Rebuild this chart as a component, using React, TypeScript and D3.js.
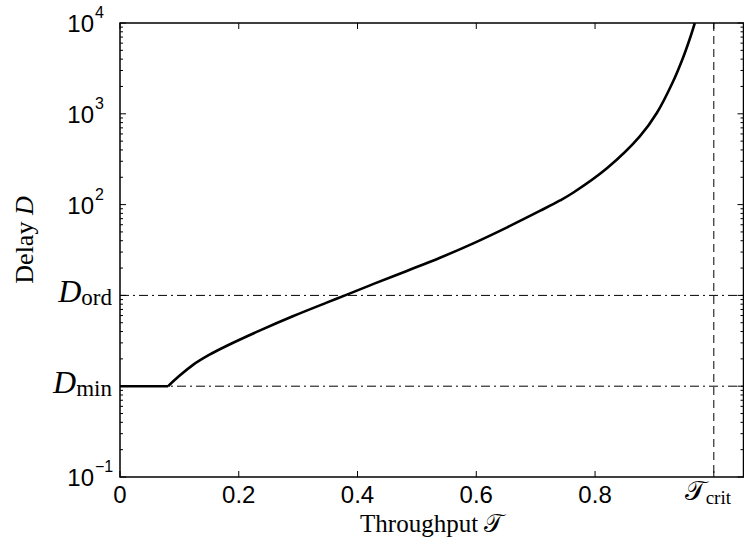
import React from 'react';
import * as d3 from 'd3';

// values
const throughput = [0, 0.081, 0.1, 0.123, 0.15, 0.18, 0.236, 0.291, 0.348, 0.379, 0.426, 0.483, 0.539, 0.594, 0.652, 0.707, 0.741, 0.763, 0.82, 0.875, 0.904, 0.931, 0.948, 0.96, 0.968];
const delay = [1, 1, 1.3, 1.72, 2.21, 2.79, 4.12, 5.89, 8.32, 10.0, 13.3, 18.6, 26.0, 37.2, 56.2, 85.1, 111, 135, 251, 560, 1020, 2239, 4121, 6839, 10000];

const xTicks = [0, 0.2, 0.4, 0.6, 0.8];
const tCrit = 1;
const dMin = 1;
const dOrd = 10;
const yDecades = [-1, 0, 1, 2, 3, 4];
const yPowerLabels = [-1, 2, 3, 4];

const W = 744;
const H = 542;
const margin = { top: 23, right: 0.5, bottom: 65, left: 120 };

const sans = '"Liberation Sans", Arial, Helvetica, sans-serif';
const serif = '"Liberation Serif", "DejaVu Serif", serif';

const App = () => {
  const x = d3.scaleLinear().domain([0, 1.05]).range([margin.left, W - margin.right]);
  const y = d3.scaleLog().domain([0.1, 1e4]).range([H - margin.bottom, margin.top]);
  const [x0, x1] = x.range();
  const [y0, y1] = y.range();

  const pts: [number, number][] = throughput.map((t, i) => [t, delay[i]]);

  // flat part is straight, the rest is smoothed
  const flat = d3.line<[number, number]>().x(d => x(d[0])).y(d => y(d[1]))(pts.slice(0, 2));
  const rise = d3.line<[number, number]>()
    .x(d => x(d[0]))
    .y(d => y(d[1]))
    .curve(d3.curveCatmullRom.alpha(0.5))(pts.slice(1));

  const minor: number[] = [];
  yDecades.slice(0, -1).forEach(e => {
    for (let m = 2; m <= 9; m++) minor.push(m * Math.pow(10, e));
  });

  return (
    <svg width={W} height={H} style={{ position: 'absolute', left: 0, top: 0, background: '#fff' }}>
      <defs>
        <clipPath id="plot">
          <rect x={x0} y={y1} width={x1 - x0} height={y0 - y1} />
        </clipPath>
      </defs>

      {/* reference lines */}
      <g stroke="#000" strokeWidth={1} fill="none">
        <line x1={x0} x2={x1} y1={y(dOrd)} y2={y(dOrd)} strokeDasharray="9,4,2,4" />
        <line x1={x0} x2={x1} y1={y(dMin)} y2={y(dMin)} strokeDasharray="9,4,2,4" />
        <line x1={x(tCrit)} x2={x(tCrit)} y1={y1} y2={y0} strokeDasharray="8,5" />
      </g>

      {/* curve */}
      <g clipPath="url(#plot)" fill="none" stroke="#000" strokeWidth={2.6}>
        <path d={flat || ''} />
        <path d={rise || ''} strokeLinejoin="round" />
      </g>

      {/* ticks */}
      <g stroke="#000" strokeWidth={1}>
        {[...xTicks, tCrit].map(t => (
          <g key={'xt' + t}>
            <line x1={x(t)} x2={x(t)} y1={y0} y2={y0 - 6} />
            <line x1={x(t)} x2={x(t)} y1={y1} y2={y1 + 6} />
          </g>
        ))}
        {yDecades.map(e => (
          <g key={'yt' + e}>
            <line x1={x0} x2={x0 + 6} y1={y(Math.pow(10, e))} y2={y(Math.pow(10, e))} />
            <line x1={x1} x2={x1 - 6} y1={y(Math.pow(10, e))} y2={y(Math.pow(10, e))} />
          </g>
        ))}
        {minor.map(v => (
          <g key={'ym' + v}>
            <line x1={x0} x2={x0 + 3} y1={y(v)} y2={y(v)} />
            <line x1={x1} x2={x1 - 3} y1={y(v)} y2={y(v)} />
          </g>
        ))}
      </g>

      {/* box */}
      <rect x={x0} y={y1} width={x1 - x0} height={y0 - y1} fill="none" stroke="#000" strokeWidth={1.5} />

      {/* x tick labels */}
      <g fontFamily={sans} fontSize={24} textAnchor="middle" fill="#000">
        {xTicks.map(t => (
          <text key={'xl' + t} x={x(t)} y={y0 + 26}>{d3.format('')(t)}</text>
        ))}
      </g>
      <text x={x(tCrit) - 6} y={y0 + 23} fontFamily={serif} fontSize={27} textAnchor="middle" fill="#000">
        𝒯<tspan fontSize={19} dy={4}>crit</tspan>
      </text>

      {/* y tick labels */}
      <g fontFamily={sans} fill="#000">
        {yPowerLabels.map(e => (
          <g key={'yl' + e}>
            <text x={x0 - 26} y={y(Math.pow(10, e)) + 9} fontSize={24} textAnchor="end">10</text>
            <text x={x0 - 25} y={y(Math.pow(10, e)) - 5} fontSize={16} textAnchor="start">
              {e < 0 ? '\u2212' + (-e) : e}
            </text>
          </g>
        ))}
      </g>
      <g fontFamily={serif} fill="#000" textAnchor="end">
        <text x={x0 - 8} y={y(dOrd) + 7} fontSize={32}>
          <tspan fontStyle="italic">D</tspan>
          <tspan fontSize={23} dy={3}>ord</tspan>
        </text>
        <text x={x0 - 8} y={y(dMin) + 7} fontSize={32}>
          <tspan fontStyle="italic">D</tspan>
          <tspan fontSize={23} dy={3}>min</tspan>
        </text>
      </g>

      {/* axis titles */}
      <text x={(x0 + x1) / 2} y={y0 + 55} fontFamily={serif} fontSize={25} textAnchor="middle" fill="#000">
        Throughput 𝒯
      </text>
      <text transform={`translate(33,${(y0 + y1) / 2 - 10}) rotate(-90)`} fontFamily={serif} fontSize={26} textAnchor="middle" fill="#000">
        Delay <tspan fontStyle="italic">D</tspan>
      </text>
    </svg>
  );
};

export default App;
